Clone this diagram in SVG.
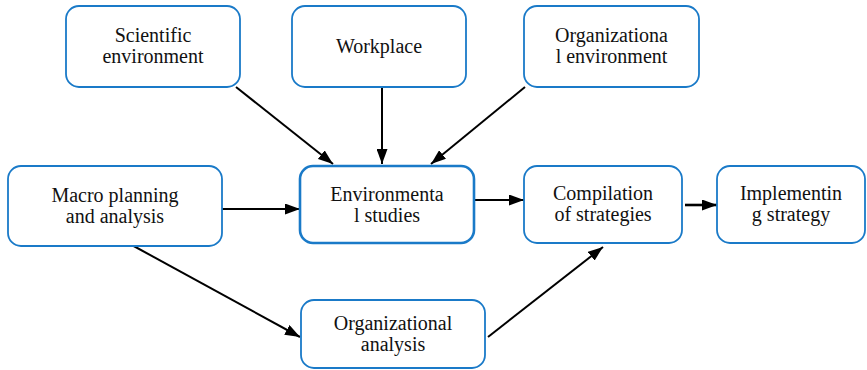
<svg xmlns="http://www.w3.org/2000/svg" width="867" height="370" viewBox="0 0 867 370">
<defs>
<style>
.box{fill:#fff;stroke:#1a7ac8;stroke-width:1.8}
.thick{stroke-width:2.6}
.t{font-family:'Liberation Serif','Times New Roman',serif;font-size:20px;fill:#111;text-anchor:middle}
.c{stroke:#000;stroke-width:2;fill:none;marker-end:url(#ah)}
</style>
<marker id="ah" viewBox="0 0 15 11" refX="15" refY="5.5" markerWidth="15" markerHeight="11" markerUnits="userSpaceOnUse" orient="auto">
<path d="M0,0 L15,5.5 L0,11 z" fill="#000"/>
</marker>
</defs>
<rect width="867" height="370" fill="#fff"/>
<g id="connectors">
<path class="c" d="M236,87 L333,164"/>
<path class="c" d="M382,87 L382,164"/>
<path class="c" d="M525,87 L431,164"/>
<path class="c" d="M222,209 L300,209"/>
<path class="c" d="M474,200 L524,200"/>
<path class="c" style="stroke-width:2.6" d="M685,205 L717,205"/>
<path class="c" d="M130,244 L300,337"/>
<path class="c" d="M488,337 L603,247"/>
</g>
<g id="scientific">
<rect class="box" x="66" y="6" width="174" height="81" rx="13"/>
<text class="t" x="153" y="42">Scientific</text>
<text class="t" x="153" y="63">environment</text>
</g>
<g id="workplace">
<rect class="box" x="292" y="6" width="174" height="81" rx="13"/>
<text class="t" x="379" y="53">Workplace</text>
</g>
<g id="org-env">
<rect class="box" x="524" y="6" width="175" height="81" rx="13"/>
<text class="t" x="611.5" y="42">Organizationa</text>
<text class="t" x="611.5" y="63">l environment</text>
</g>
<g id="macro">
<rect class="box" x="8" y="166" width="214" height="80" rx="13"/>
<text class="t" x="115" y="202">Macro planning</text>
<text class="t" x="115" y="223">and analysis</text>
</g>
<g id="env-studies">
<rect class="box thick" x="300" y="166" width="174" height="77" rx="13"/>
<text class="t" x="387" y="201">Environmenta</text>
<text class="t" x="387" y="222">l studies</text>
</g>
<g id="compilation">
<rect class="box" x="524" y="166" width="158" height="77" rx="13"/>
<text class="t" x="603" y="200">Compilation</text>
<text class="t" x="603" y="221">of strategies</text>
</g>
<g id="implementing">
<rect class="box" x="717" y="166" width="148" height="77" rx="13"/>
<text class="t" x="791" y="200">Implementin</text>
<text class="t" x="791" y="221">g strategy</text>
</g>
<g id="org-analysis">
<rect class="box" x="301" y="300" width="184" height="68" rx="13"/>
<text class="t" x="393" y="330">Organizational</text>
<text class="t" x="393" y="351">analysis</text>
</g>
</svg>
